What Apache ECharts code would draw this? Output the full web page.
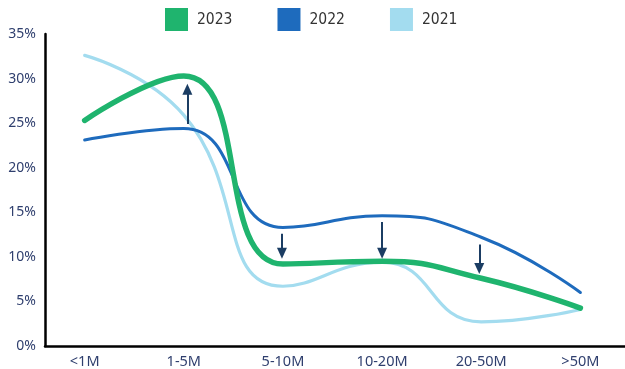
<!DOCTYPE html>
<html><head><meta charset="utf-8">
<script src="https://cdn.jsdelivr.net/npm/echarts@6/dist/echarts.min.js"></script>
<style>html,body{margin:0;padding:0;background:#fff}#c{width:625px;height:369px}</style>
</head><body><div id="c"></div>
<script>
const categories = ['<1M', '1-5M', '5-10M', '10-20M', '20-50M', '>50M'];
const seriesNames = ['2023', '2022', '2021'];
const values2023 = [25.3, 30.3, 9.2, 9.5, 7.6, 4.25];
const values2022 = [23.1, 24.4, 13.3, 14.6, 12.2, 6.0];
const values2021 = [32.6, 25.9, 6.7, 9.4, 2.7, 4.1];
const yTicks = [0, 5, 10, 15, 20, 25, 30, 35];
// arrows: [category position, from %, to %]
const arrows = [[1.036, 24.9, 28.8], [1.99, 12.6, 10.4], [3.0, 13.9, 10.4], [3.98, 11.4, 8.7]];

const colors = {'2023': '#1fb46e', '2022': '#1e6bbd', '2021': '#a3dcef'};
const widths = {'2023': 5.5, '2022': 3, '2021': 3.2};
const valuesBy = {'2023': values2023, '2022': values2022, '2021': values2021};
const axisFont = "'Noto Sans', sans-serif";
const legendFont = "'DejaVu Sans Condensed', 'Liberation Sans Narrow', sans-serif";

const chart = echarts.init(document.getElementById('c'));
const drawOrder = ['2021', '2022', '2023'];
const series = drawOrder.map(name => ({
  name: name,
  type: 'line',
  data: valuesBy[name].map((v, i) => [i, v]),
  smooth: 0.5,
  showSymbol: false,
  symbol: 'none',
  lineStyle: {color: colors[name], width: widths[name], cap: 'round'},
  itemStyle: {color: colors[name]},
  z: 2
}));
series.push({
  type: 'line',
  data: [],
  silent: true,
  z: 5,
  markLine: {
    silent: true,
    symbol: ['none', 'triangle'],
    symbolSize: [10, 11],
    label: {show: false},
    lineStyle: {color: '#1b3d63', width: 2, type: 'solid'},
    emphasis: {disabled: true},
    data: arrows.map(a => [{coord: [a[0], a[1]]}, {coord: [a[0], a[2]]}])
  }
});

chart.setOption({
  animation: false,
  color: seriesNames.map(n => colors[n]),
  legend: {
    data: seriesNames.map(n => ({name: n, icon: 'rect', itemStyle: {color: colors[n]}})),
    left: 165, top: 8, padding: 0,
    itemWidth: 23, itemHeight: 23, itemGap: 45,
    textStyle: {fontFamily: legendFont, fontSize: 15.5, color: '#333', padding: [0, 0, 0, 4]}
  },
  grid: {left: 45, right: 0, top: 34, bottom: 22, containLabel: false},
  xAxis: {
    type: 'value', min: -0.4, max: 5.45, splitNumber: 6,
    minInterval: 1, maxInterval: 1,
    axisLine: {show: true, onZero: false, lineStyle: {color: '#000', width: 2.5}},
    axisTick: {show: false},
    splitLine: {show: false},
    axisLabel: {
      margin: 8, color: '#2f3f6e', fontFamily: axisFont, fontSize: 14.5,
      showMinLabel: false, showMaxLabel: false,
      formatter: v => { const r = Math.round(v); return Math.abs(v - r) < 1e-6 && r >= 0 && r < categories.length ? categories[r] : ''; }
    }
  },
  yAxis: {
    type: 'value', min: yTicks[0], max: yTicks[yTicks.length - 1], interval: 5,
    axisLine: {show: true, onZero: false, lineStyle: {color: '#000', width: 2.5}},
    axisTick: {show: false},
    splitLine: {show: false},
    axisLabel: {margin: 9, color: '#2f3f6e', fontFamily: axisFont, fontSize: 14, formatter: '{value}%'}
  },
  series: series
});
</script></body></html>
